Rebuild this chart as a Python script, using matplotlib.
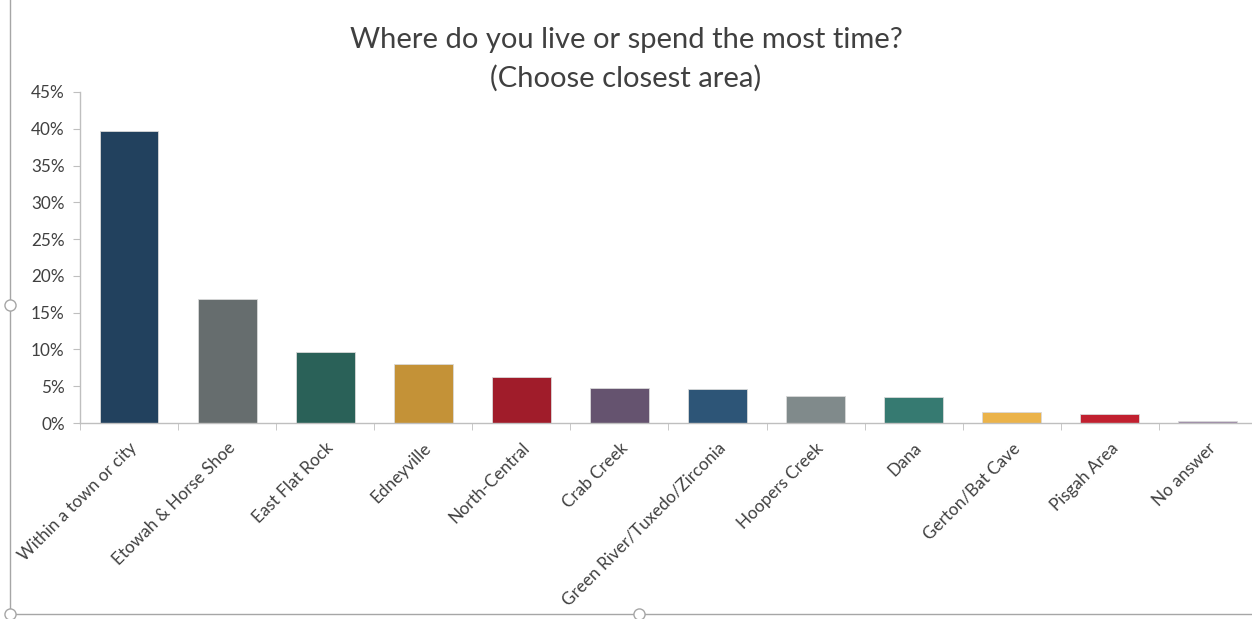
import numpy as np
import matplotlib.pyplot as plt
from matplotlib.ticker import PercentFormatter, FixedLocator
from matplotlib.lines import Line2D

areas = ["Within a town or city", "Etowah & Horse Shoe", "East Flat Rock", "Edneyville",
         "North-Central", "Crab Creek", "Green River/Tuxedo/Zirconia", "Hoopers Creek",
         "Dana", "Gerton/Bat Cave", "Pisgah Area", "No answer"]
shares = [39.7, 16.9, 9.6, 8.0, 6.2, 4.75, 4.6, 3.65, 3.6, 1.5, 1.2, 0.25]
colors = ["#22415E", "#666D6E", "#2A6158", "#C49237", "#A01C2A", "#65536F",
          "#2D5577", "#808A8B", "#367A71", "#EBB34A", "#C1202F", "#9A86A6"]

plt.rcParams['font.family'] = ['Lato', 'DejaVu Sans']

fig = plt.figure(figsize=(12.52, 6.19), dpi=100)
ax = fig.add_axes([0.0639, 0.3166, 0.94, 0.5348])

x = np.arange(len(areas))
ax.bar(x, shares, width=0.6, color=colors, edgecolor="#D9D9D9", linewidth=0.6, zorder=2)

ax.set_xlim(-0.5, len(areas) - 0.5)
ax.set_ylim(0, 45)
ax.yaxis.set_major_locator(FixedLocator(np.arange(0, 46, 5)))
ax.yaxis.set_major_formatter(PercentFormatter(decimals=0))

ax.set_xticks(x)
ax.set_xticklabels(areas, rotation=45, ha='right', rotation_mode='anchor')
ax.set_xticks(np.arange(-0.5, len(areas), 1), minor=True)
ax.tick_params(axis='x', which='major', length=0, pad=12, labelsize=12.3, labelcolor="#404040")
ax.tick_params(axis='x', which='minor', length=5, color="#BFBFBF", direction='out')
ax.tick_params(axis='y', length=5, color="#BFBFBF", pad=6, labelsize=12.3, labelcolor="#404040")

for side in ['top', 'right']:
    ax.spines[side].set_visible(False)
for side in ['left', 'bottom']:
    ax.spines[side].set_color("#BFBFBF")
    ax.spines[side].set_linewidth(1.0)

fig.text(0.5, 0.935, "Where do you live or spend the most time?", ha='center', va='center',
         fontsize=21, color="#404040")
fig.text(0.5, 0.874, "(Choose closest area)", ha='center', va='center',
         fontsize=21, color="#404040")

# chart frame edges and selection handles
fig.add_artist(Line2D([0.008, 0.008], [0.008, 1.0], color="#A6A6A6", linewidth=1))
fig.add_artist(Line2D([0.008, 1.0], [0.008, 0.008], color="#A6A6A6", linewidth=1))
for hx, hy in [(0.008, 0.507), (0.008, 0.008), (0.51, 0.008)]:
    fig.add_artist(Line2D([hx], [hy], marker='o', markersize=8, markerfacecolor='white',
                          markeredgecolor="#A6A6A6", linestyle='none'))

fig.savefig("out.png", dpi=100)
